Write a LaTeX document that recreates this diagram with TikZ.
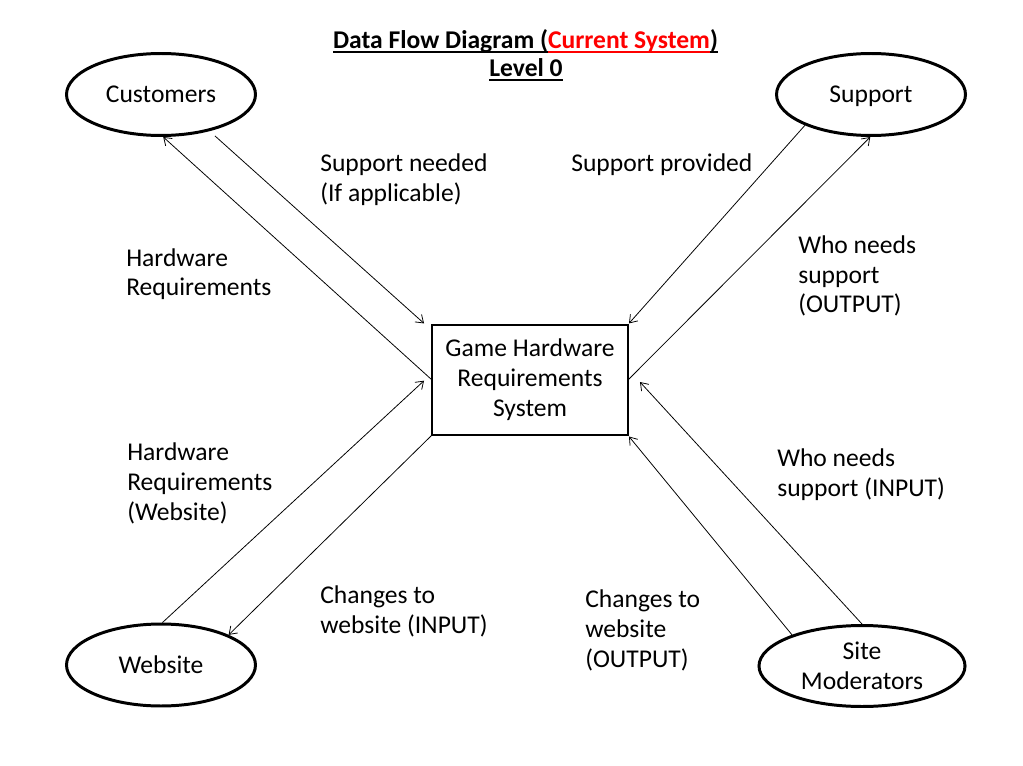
\documentclass[tikz,border=0pt]{standalone}
\usepackage{fontspec}
\setmainfont{Carlito}
\usetikzlibrary{arrows.meta,calc,shapes.geometric}
\newlength\ulw
\newcommand\myul[1]{\settowidth{\ulw}{#1}\rlap{\rule[-3pt]{\ulw}{1.3pt}}#1}
\begin{document}
\begin{tikzpicture}[x=0.7038pt,y=-0.7038pt,
  every node/.style={font=\fontsize{18}{21.1}\selectfont, inner sep=0pt},
  ent/.style={ellipse, draw, line width=2.1pt, minimum width=133pt, minimum height=57.7pt, align=center},
  proc/.style={rectangle, draw, line width=0.8pt, minimum width=137.9pt, minimum height=77.4pt, align=center, outer sep=0pt},
  lbl/.style={anchor=base west, align=left},
  ttl/.style={anchor=base, font=\bfseries\fontsize{18}{19.5}\selectfont},
  flow/.style={line width=0.55pt, -{Straight Barb[length=5pt,width=7pt]}}]
\useasboundingbox (0,0) rectangle (1023,766);
% title
\node[ttl] (t1) at (525.5,48.5) {\myul{Data Flow Diagram (}\textcolor{red}{\myul{Current System}}\myul{)}};
\node[ttl] (t2) at (526,77) {\myul{Level 0}};
% entities
\node[ent] (cust) at (161,94.5) {Customers};
\node[ent, text depth=0pt] (sup) at (871,94.5) {Support};
\node[ent] (web) at (161,665) {Website};
\node[ent, minimum width=145pt, minimum height=57pt] (sm) at (862,666) {Site\\Moderators};
\node[proc] (box) at (530,380) {Game Hardware\\Requirements\\System};
% flows
\draw[flow, shorten <=5pt] (cust.-37) -- ($(box.north west)+(-8,-1.6)$);
\draw[flow] (box.west) -- (cust.-87);
\draw[flow] (web.88) -- ($(box.west)+(-8,0.7)$);
\draw[flow] (box.south west) -- (web.24);
\draw[flow] (sup.205) -- ($(box.north east)+(1,-1.6)$);
\draw[flow] (box.east) -- (sup.-91);
\draw[flow] (sm.north) -- ($(box.east)+(12,2)$);
\draw[flow] (sm.156) -- ($(box.south east)+(1,1.5)$);
% labels (anchor = baseline of last line)
\node[lbl] (l1) at (320,201.7) {Support needed\\(If applicable)};
\node[lbl] (l2) at (571,172) {Support provided};
\node[lbl] (l3) at (126,296) {Hardware\\Requirements};
\node[lbl] (l4) at (798,313) {Who needs\\support\\(OUTPUT)};
\node[lbl] (l5) at (127,520.7) {Hardware\\Requirements\\(Website)};
\node[lbl] (l6) at (777,496) {Who needs\\support (INPUT)};
\node[lbl] (l7) at (320,633) {Changes to\\website (INPUT)};
\node[lbl] (l8) at (585,667) {Changes to\\website\\(OUTPUT)};
\end{tikzpicture}
\end{document}
